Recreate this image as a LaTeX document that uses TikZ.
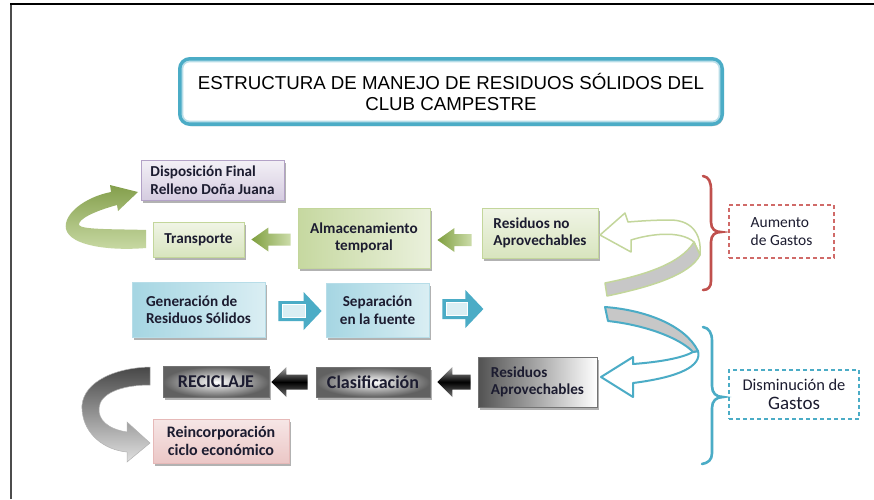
\documentclass[tikz,border=0pt]{standalone}
\usepackage{fontspec}
\setmainfont{Carlito}
\newfontfamily\lsans{Liberation Sans}
\usetikzlibrary{shadows,calc}
\definecolor{tealA}{HTML}{4BACC6}
\definecolor{tealB}{HTML}{B7DDE8}
\definecolor{tealC}{HTML}{DAEEF3}
\definecolor{txt}{HTML}{1C1C30}
\definecolor{grnBorder}{HTML}{C3D69B}
\definecolor{grnDark}{HTML}{7F9F3F}
\definecolor{grnMid}{HTML}{9BBB59}
\definecolor{redB}{HTML}{C0504D}
\definecolor{redDash}{HTML}{D06A68}
\definecolor{purB}{HTML}{B3A2C7}
\definecolor{pinkB}{HTML}{E6B9B8}
\newcommand\bxfont{\bfseries\fontsize{15.2}{17.5}\selectfont}
\newcommand\blockarr[6]{%
  \path[#1] let \p1=(#2), \p2=(#3), \n1={sign(\x2-\x1)} in
   ({\x1},{\y1}) -- ({\x1+\n1*#4pt},{\y1+#5pt}) -- ({\x1+\n1*#4pt},{\y1+#6pt})
   -- ({\x2},{\y1+#6pt}) -- ({\x2},{\y1-#6pt}) -- ({\x1+\n1*#4pt},{\y1-#6pt})
   -- ({\x1+\n1*#4pt},{\y1-#5pt}) -- cycle;}
\newcommand\bluearr[2]{%
  \blockarr{bluearrow}{#1}{#2}{18}{19}{10}
  \path[draw=white,line width=0.8pt,fill=tealC] let \p1=(#1), \p2=(#2), \n1={sign(\x2-\x1)} in
   ({\x2-\n1*3.5pt},{\y1-6.5pt}) rectangle ({\x1+\n1*16pt},{\y1+6.5pt});}
\tikzset{
  shad/.style={drop shadow={shadow xshift=2pt,shadow yshift=-2.5pt,opacity=0.3,fill=black}},
  box/.style={rectangle,draw,line width=0.8pt,inner sep=2pt,font=\bxfont,text=txt,shad},
  purplebox/.style={box,draw=purB,top color=white!60!purB!40,bottom color=purB!55},
  greenbox/.style={box,draw=grnBorder,top color=grnBorder!25,bottom color=grnBorder!65},
  greenboxD/.style={box,draw=grnBorder,left color=grnBorder!95,right color=grnBorder!35},
  bluebox/.style={box,draw=tealB,left color=tealA!50,right color=tealC},
  grayboxR/.style={box,draw=black!55,inner color=white,outer color=black!62,
                   font=\bfseries\fontsize{18}{20}\selectfont},
  grayboxL/.style={box,draw=black!55,left color=black!68,right color=white},
  pinkbox/.style={box,draw=pinkB,top color=pinkB!35,bottom color=pinkB!80},
  dashbox/.style={rectangle,line width=1.4pt,dash pattern=on 4pt off 3pt,text=txt,inner sep=2pt},
  greenarrow/.style={left color=grnDark,right color=grnBorder!85},
  blackarrow/.style={top color=black!35,bottom color=black!55,middle color=black},
  bluearrow/.style={fill=tealA},
  brace/.style={line width=2.6pt,line cap=round},
}
\begin{document}
\begin{tikzpicture}[x=1pt,y=-1pt]
\useasboundingbox[fill=white] (0,0) rectangle (874,499);
% frame
\draw[black!70,line width=2pt] (11,499) -- (11,4);
\draw[black,line width=1.5pt] (10,4) -- (874,4);
% title
\node[rectangle,rounded corners=10pt,draw=tealA,line width=4pt,fill=white,
      minimum width=542pt,minimum height=65pt,align=center,
      drop shadow={shadow xshift=1.5pt,shadow yshift=-2pt,opacity=0.25,fill=black},
      font=\lsans\fontsize{18.7}{21}\selectfont] (title) at (451,91.5)
  {ESTRUCTURA DE MANEJO DE RESIDUOS SÓLIDOS DEL\\CLUB CAMPESTRE};
\draw[tealB,line width=1.6pt,rounded corners=7pt] ($(title.north west)+(4.5,4.5)$) rectangle ($(title.south east)+(-4.5,-4.5)$);
% boxes
\node[purplebox,minimum width=143pt,minimum height=40pt,align=left] (disp) at (212.5,180) {Disposición Final\\Relleno Doña Juana};
\node[greenbox,minimum width=91pt,minimum height=35pt] (transp) at (198.5,239.5) {Transporte};
\node[greenboxD,minimum width=132pt,minimum height=60pt,align=center] (alma) at (364,238) {Almacenamiento\\temporal};
\node[greenbox,minimum width=116pt,minimum height=50pt,align=left] (resno) at (540,233) {Residuos no\\Aprovechables};
\node[bluebox,minimum width=133pt,minimum height=55pt,align=left] (gen) at (198.5,309.5) {Generación de\\Residuos Sólidos};
\node[bluebox,minimum width=103pt,minimum height=54pt,align=center] (sep) at (377.5,310) {Separación\\en la fuente};
\node[grayboxR,minimum width=106pt,minimum height=31pt] (recic) at (216,382) {RECICLAJE};
\node[grayboxR,minimum width=114pt,minimum height=30pt] (clasif) at (373,382) {Clasificación};
\node[grayboxL,minimum width=119pt,minimum height=50pt,align=left] (resap) at (537.5,382) {Residuos\\Aprovechables};
\node[pinkbox,minimum width=136pt,minimum height=44pt,align=center,
      font=\bfseries\fontsize{16}{18}\selectfont] (reinc) at (221,441) {Reincorporación\\ciclo económico};
\node[dashbox,draw=redDash,minimum width=105pt,minimum height=53pt,align=left,
      font=\fontsize{15.5}{18}\selectfont] (aum) at (781.5,231.5) {Aumento\\de Gastos};
\node[dashbox,draw=tealA,minimum width=130pt,minimum height=49pt,align=center,
      font=\fontsize{16.4}{19}\selectfont] (dism) at (794,394.5)
  {Disminución de\\{\fontsize{19}{21}\selectfont Gastos}};
% straight block arrows
\blockarr{greenarrow}{$(transp.east)+(7,0)$}{$(alma.west)+(-7,0)$}{17}{12}{6}
\blockarr{greenarrow}{$(alma.east)+(7,2)$}{$(resno.west)+(-10,0)$}{17}{12}{6}
\blockarr{blackarrow}{$(recic.east)+(2,0)$}{$(clasif.west)+(-8,0)$}{15}{15}{7.5}
\blockarr{blackarrow}{$(clasif.east)+(7,0)$}{$(resap.west)+(-7,0)$}{15}{15}{7.5}
\bluearr{$(sep.west)+(-4,1)$}{$(gen.east)+(13,0)$}
\coordinate (sepout) at ($(sep.east)+(54,-1)$);
\bluearr{sepout}{$(sep.east)+(13,-1)$}
% left green curved arrow
\path[top color=grnMid!85!black,bottom color=grnBorder!90] (146,248) .. controls (110,251) and (70,246) .. (66,229)
  .. controls (63,214) and (85,197) .. (111,192) -- (110,185) -- (138,192) -- (118,211) -- (117,205)
  .. controls (95,211) and (78,219) .. (79,225) .. controls (81,230) and (120,229) .. (146,230) -- cycle;
% bottom-left gray curved arrow
\path[top color=black!72,bottom color=black!12,draw=black!30,line width=0.5pt] (150,367) .. controls (110,368) and (80,385) .. (82,410)
  .. controls (84,435) and (105,450) .. (127,452) -- (127,462) -- (150,443) -- (127,422) -- (127,432)
  .. controls (108,429) and (98,420) .. (99,408) .. controls (100,394) and (120,385) .. (150,385) -- cycle;
% right curved arrows (upper, green outline)
\path[fill=white,draw=grnBorder,line width=1.5pt,line join=round] (700,255) .. controls (702,232) and (690,220) .. (670,220)
  .. controls (655,220) and (640,221) .. (628,222) -- (625,213) -- (600,235) -- (631,252) -- (631,240)
  .. controls (650,234) and (680,230) .. (694,242) -- cycle;
\path[fill=black!22,draw=grnBorder,line width=1.5pt,line join=round] (605,283) .. controls (640,276) and (680,265) .. (694,242)
  -- (700,255) .. controls (690,275) and (650,287) .. (607,296) -- cycle;
% right curved arrows (lower, blue outline)
\path[fill=white,draw=tealA,line width=2pt,line join=round] (698,351) .. controls (702,366) and (680,377) .. (633,383)
  -- (633,397) -- (601,377) -- (633,357) -- (633,364) .. controls (660,362) and (682,358) .. (693,352) -- cycle;
\path[fill=black!22,draw=tealA,line width=2pt,line join=round] (605,307) .. controls (645,310) and (685,325) .. (698,351)
  -- (693,352) .. controls (680,338) and (645,325) .. (608,321) -- cycle;
% braces
\draw[brace,redB] (703,176) .. controls (709,177) and (711,182) .. (711,190) -- (711,222)
  .. controls (711,229) and (715,232) .. (721,232) .. controls (715,232) and (711,235) .. (711,242)
  -- (711,281) .. controls (711,287) and (708,290) .. (703,290);
\draw[brace,tealA] (703,327) .. controls (709,328) and (712,333) .. (712,341) -- (712,386)
  .. controls (712,393) and (716,397) .. (723,397) .. controls (716,397) and (712,401) .. (712,408)
  -- (712,453) .. controls (712,460) and (708,463) .. (702,464);
\end{tikzpicture}
\end{document}
